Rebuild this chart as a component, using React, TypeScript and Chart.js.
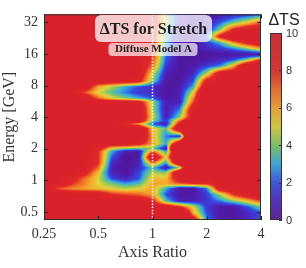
import React, { useEffect, useRef } from "react";
import { Chart, registerables } from "chart.js";
Chart.register(...registerables);

// Axis-ratio grid columns (log-spaced, quarter octaves)
const axisRatioCols = [0.25, 0.297, 0.354, 0.42, 0.5, 0.595, 0.707, 0.841, 1, 1.189, 1.414, 1.682, 2, 2.378, 2.828, 3.364, 4];
// Energy rows in GeV (top to bottom)
const energyRows = [38.0, 32.2, 27.2, 23.5, 20.3, 17.9, 16.84, 15.8, 14.87, 13.97, 12.3, 10.4, 8.82, 7.79, 6.87, 6.06, 5.58, 4.72, 3.99, 3.68, 3.45, 3.11, 2.63, 2.23, 2.01, 1.89, 1.66, 1.47, 1.32, 1.19, 1.05, 0.927, 0.836, 0.737, 0.637, 0.562, 0.486, 0.42];
// ΔTS values, one row per energy, one column per axis ratio
const deltaTS = [
  [10, 10, 10, 10, 10, 10, 10, 10, 10, 4, 1.2, 0.3, 0.2, 0.4, 1, 1.5, 2],
  [10, 10, 10, 10, 10, 10, 10, 10, 10, 5, 1.2, 0.2, 0.6, 2, 3.5, 5, 7],
  [10, 10, 10, 10, 10, 10, 10, 10, 9.5, 3.5, 0.8, 0.2, 1, 4, 8.5, 10, 10],
  [10, 10, 10, 10, 10, 10, 10, 10, 9, 3.5, 0.6, 0.2, 2.5, 9, 12, 12, 12],
  [10, 10, 10, 10, 10, 10, 10, 10, 9, 3, 0.4, 0.2, 1.5, 3, 6, 8.5, 10],
  [10, 10, 10, 10, 10, 10, 10, 10, 8.5, 2.5, 0.2, 0.2, 1, 1.5, 2.5, 4, 6],
  [10, 10, 10, 10, 10, 10, 10, 10, 8.2, 2.5, 0.2, 0.2, 0.5, 0.8, 1.2, 2, 3],
  [10, 10, 10, 10, 10, 10, 10, 10, 8, 2.5, 0.2, 0.2, 0.2, 0.3, 0.4, 0.5, 0.6],
  [10, 10, 10, 10, 10, 10, 10, 10, 7.8, 2.2, 0.2, 0.2, 0.3, 0.6, 1, 2, 3.5],
  [10, 10, 10, 10, 10, 10, 10, 10, 7.5, 2, 0.2, 0.3, 0.5, 1, 2, 4.5, 9],
  [10, 10, 10, 10, 10, 10, 10, 10, 7, 1.5, 0.2, 0.4, 1.5, 2.5, 6, 12, 12],
  [10, 10, 10, 10, 10, 10, 10, 10, 5, 0.8, 0.1, 1, 4.5, 10, 10, 10, 10],
  [10, 10, 10, 10, 10, 10, 10, 9, 4, 0.3, 0.2, 2, 9, 10, 10, 10, 10],
  [10, 10, 10, 10, 6, 4.5, 3, 2, 1.3, 0.2, 0.4, 3, 11, 10, 10, 10, 10],
  [10, 10, 10, 7.5, 5, 3.5, 2.5, 1.5, 1.2, 0.2, 0.6, 5, 14, 10, 10, 10, 10],
  [10, 10, 10, 10, 7, 5, 4, 3, 2, 0.4, 0.8, 6.5, 14, 10, 10, 10, 10],
  [10, 10, 10, 10, 10, 10, 10, 9.5, 4.5, 0.8, 0.8, 7.5, 12, 10, 10, 10, 10],
  [10, 10, 10, 10, 10, 10, 10, 11, 4.5, 0.6, 2.5, 10, 10, 10, 10, 10, 10],
  [10, 10, 10, 10, 10, 10, 10, 11, 5, 0.8, 4, 10, 10, 10, 10, 10, 10],
  [10, 10, 10, 10, 10, 10, 10, 11, 4, 1.5, 7, 12, 10, 10, 10, 10, 10],
  [10, 10, 10, 10, 10, 10, 8.5, 6, 2, 0.5, 9, 12, 10, 10, 10, 10, 10],
  [10, 10, 10, 10, 10, 10, 10, 12, 5.5, 3.5, 12, 20, 10, 10, 10, 10, 10],
  [10, 10, 10, 10, 10, 10, 10, 12, 6, 2.5, 1, 20, 20, 10, 10, 10, 10],
  [10, 10, 10, 10, 10, 10, 10, 9, 6, 3, 12, 20, 10, 10, 10, 10, 10],
  [10, 10, 10, 10, 9.5, 5, 4, 3.5, 4, 0.5, 25, 20, 10, 10, 10, 10, 10],
  [10, 10, 10, 10, 8, 3, 0.8, 0.5, 7, 3, 15, 20, 10, 10, 10, 10, 10],
  [10, 10, 10, 10, 8, 2, 0, 0.3, 12, 5, 15, 20, 10, 10, 10, 10, 10],
  [10, 10, 10, 10, 8, 1.2, 0, 0.8, 7, 3, 12, 15, 10, 10, 10, 10, 10],
  [10, 10, 10, 10, 7, 0.8, 0, 1.2, 3.5, 0.5, 4, 20, 10, 10, 10, 10, 10],
  [10, 10, 10, 9, 5.5, 0.8, 0, 1.8, 4.5, 4, 12, 20, 10, 10, 10, 10, 10],
  [10, 10, 9, 7, 5, 1.8, 0.8, 2, 5.5, 5.5, 10, 15, 10, 10, 10, 10, 10],
  [10, 10, 8, 6.5, 5, 4, 3, 3.5, 6, 6, 7, 7.5, 8, 10, 10, 10, 10],
  [10, 7.5, 6.5, 6, 5.5, 5, 4.5, 5, 6, 3, 0.3, 0.3, 2.5, 10, 10, 10, 10],
  [10, 10, 10, 10, 10, 8, 7.5, 7, 6, 2, 0.2, 0.4, 1.5, 4.5, 8, 10, 12],
  [10, 10, 10, 10, 10, 10, 10, 10, 8.5, 3.5, 0.8, 0.8, 1.5, 2.5, 4, 5.5, 7.5],
  [10, 10, 10, 10, 10, 10, 10, 10, 10, 10, 8, 5, 1.5, 0.4, 0.4, 2, 4],
  [10, 10, 10, 10, 10, 10, 10, 10, 10, 10, 15, 6, 2, 0.4, 0.2, 1, 1.8],
  [10, 10, 10, 10, 10, 10, 10, 10, 10, 10, 15, 10, 2.6, 0.5, 0.3, 1.2, 2],
];

const xTicks = [0.25, 0.5, 1, 2, 4];
const yTicks = [0.5, 1, 2, 4, 8, 16, 32];
const cbTicks = [0, 2, 4, 6, 8, 10];
const xRange = [0.25, 4];
const yRange = [0.42, 38];
const cbRange = [0, 10];

const cmapStops: number[][] = [
  [0, 80, 20, 150],
  [1, 75, 35, 190],
  [2, 50, 75, 225],
  [3, 55, 170, 225],
  [4, 125, 200, 100],
  [5, 225, 210, 60],
  [6, 245, 165, 45],
  [7, 240, 105, 40],
  [8, 224, 40, 40],
  [10, 218, 32, 42],
];

function colorFor(v: number): number[] {
  const c = Math.max(0, Math.min(10, v));
  for (let i = 0; i < cmapStops.length - 1; i++) {
    const a = cmapStops[i], b = cmapStops[i + 1];
    if (c <= b[0]) {
      const t = (c - a[0]) / (b[0] - a[0]);
      return [a[1] + (b[1] - a[1]) * t, a[2] + (b[2] - a[2]) * t, a[3] + (b[3] - a[3]) * t];
    }
  }
  const l = cmapStops[cmapStops.length - 1];
  return [l[1], l[2], l[3]];
}

const SERIF = "'Liberation Serif', 'DejaVu Serif', serif";
const SANS = "'Liberation Sans', Arial, sans-serif";

function locate(arr: number[], v: number, asc: boolean): [number, number] {
  const n = arr.length;
  let k = 0;
  if (asc) {
    while (k < n - 2 && v > arr[k + 1]) k++;
    const t = (v - arr[k]) / (arr[k + 1] - arr[k]);
    return [k, Math.max(0, Math.min(1, t))];
  }
  while (k < n - 2 && v < arr[k + 1]) k++;
  const t = (arr[k] - v) / (arr[k] - arr[k + 1]);
  return [k, Math.max(0, Math.min(1, t))];
}

const heatmapPlugin = {
  id: "heatmap",
  beforeDatasetsDraw(chart: any) {
    const { ctx, chartArea, scales } = chart;
    const xs = scales.x, ys = scales.y;
    const left = Math.round(chartArea.left), top = Math.round(chartArea.top);
    const w = Math.round(chartArea.right) - left;
    const h = Math.round(chartArea.bottom) - top;
    const lc = axisRatioCols.map((v) => Math.log2(v));
    const lr = energyRows.map((v) => Math.log2(v));
    const off = document.createElement("canvas");
    off.width = w; off.height = h;
    const octx = off.getContext("2d")!;
    const img = octx.createImageData(w, h);
    const ci: number[] = [], ct: number[] = [];
    for (let i = 0; i < w; i++) {
      const lx = Math.log2(xs.getValueForPixel(left + i + 0.5));
      const [k, t] = locate(lc, lx, true);
      ci.push(k); ct.push(t);
    }
    for (let j = 0; j < h; j++) {
      const ly = Math.log2(ys.getValueForPixel(top + j + 0.5));
      const [r, u] = locate(lr, ly, false);
      const r0 = deltaTS[r], r1 = deltaTS[r + 1];
      for (let i = 0; i < w; i++) {
        const k = ci[i], t = ct[i];
        const a = r0[k] + (r0[k + 1] - r0[k]) * t;
        const b = r1[k] + (r1[k + 1] - r1[k]) * t;
        const v = a + (b - a) * u;
        const col = colorFor(v);
        const p = (j * w + i) * 4;
        img.data[p] = col[0]; img.data[p + 1] = col[1]; img.data[p + 2] = col[2]; img.data[p + 3] = 255;
      }
    }
    octx.putImageData(img, 0, 0);
    ctx.save();
    ctx.drawImage(off, left, top);
    ctx.restore();
  },
  afterDatasetsDraw(chart: any) {
    const { ctx, chartArea, scales } = chart;
    const xs = scales.x, ys = scales.y;
    const { left, top, right, bottom } = chartArea;
    ctx.save();
    // dotted line at axis ratio 1
    const x1 = xs.getPixelForValue(1);
    ctx.strokeStyle = "rgba(255,255,255,0.95)";
    ctx.lineWidth = 1.5;
    ctx.setLineDash([1.5, 1.6]);
    ctx.beginPath();
    ctx.moveTo(x1, top);
    ctx.lineTo(x1, bottom);
    ctx.stroke();
    ctx.setLineDash([]);
    // frame
    ctx.strokeStyle = "#333";
    ctx.lineWidth = 1;
    ctx.strokeRect(left + 0.5, top + 0.5, right - left - 1, bottom - top - 1);
    // inner ticks
    ctx.strokeStyle = "#222";
    ctx.beginPath();
    for (const v of xTicks) {
      const px = Math.round(xs.getPixelForValue(v)) + 0.5;
      ctx.moveTo(px, bottom); ctx.lineTo(px, bottom - 4);
      ctx.moveTo(px, top); ctx.lineTo(px, top + 4);
    }
    for (const v of yTicks) {
      const py = Math.round(ys.getPixelForValue(v)) + 0.5;
      ctx.moveTo(left, py); ctx.lineTo(left + 4, py);
      ctx.moveTo(right, py); ctx.lineTo(right - 4, py);
    }
    ctx.stroke();

    // title boxes
    ctx.fillStyle = "rgba(255,255,255,0.76)";
    ctx.beginPath();
    (ctx as any).roundRect(x1 - 57.5, 15, 117, 27, 6);
    ctx.fill();
    ctx.fillStyle = "rgba(255,255,255,0.68)";
    ctx.beginPath();
    (ctx as any).roundRect(x1 - 44, 43, 89, 13, 4);
    ctx.fill();
    ctx.fillStyle = "#1e1e1e";
    ctx.textAlign = "center";
    ctx.textBaseline = "middle";
    ctx.font = `bold 16px ${SERIF}`;
    ctx.fillText("ΔTS for Stretch", x1 + 1, 29.5);
    ctx.font = `bold 11px ${SERIF}`;
    ctx.fillText("Diffuse Model A", x1 + 1, 49.5);

    // colorbar
    const cbL = 270, cbR = 282, cbT = 33, cbB = 220;
    for (let py = cbT; py < cbB; py++) {
      const v = cbRange[0] + (cbRange[1] - cbRange[0]) * (cbB - (py + 0.5)) / (cbB - cbT);
      const c = colorFor(v).map((q) => Math.round(q * 0.82 + 128 * 0.18));
      ctx.fillStyle = `rgb(${c[0]},${c[1]},${c[2]})`;
      ctx.fillRect(cbL, py, cbR - cbL, 1);
    }
    ctx.strokeStyle = "#333";
    ctx.strokeRect(cbL + 0.5, cbT + 0.5, cbR - cbL - 1, cbB - cbT - 1);
    ctx.beginPath();
    ctx.font = `11px ${SANS}`;
    ctx.textAlign = "left";
    ctx.fillStyle = "#333";
    for (const v of cbTicks) {
      const py = cbB - (v - cbRange[0]) / (cbRange[1] - cbRange[0]) * (cbB - cbT);
      const yy = Math.round(py) + 0.5;
      ctx.moveTo(cbR - 3, yy); ctx.lineTo(cbR, yy);
      ctx.fillText(String(v), cbR + 4, py + 0.5);
    }
    ctx.stroke();
    ctx.font = `16px ${SANS}`;
    ctx.textAlign = "center";
    ctx.fillStyle = "#222";
    ctx.fillText("ΔTS", 284, 21);
    ctx.restore();
  },
};

export default function App() {
  const ref = useRef<HTMLCanvasElement | null>(null);
  useEffect(() => {
    if (!ref.current) return;
    const chart = new Chart(ref.current, {
      type: "scatter",
      data: { datasets: [{ data: [], pointRadius: 0 }] },
      options: {
        animation: false,
        responsive: false,
        devicePixelRatio: 1,
        layout: { padding: { left: 0, right: 45, top: 4, bottom: 0 } },
        plugins: { legend: { display: false }, tooltip: { enabled: false } },
        scales: {
          x: {
            type: "logarithmic",
            min: xRange[0],
            max: xRange[1],
            afterBuildTicks: (s: any) => { s.ticks = xTicks.map((v) => ({ value: v })); },
            afterFit: (s: any) => { s.height = 48; },
            grid: { display: false, drawTicks: false },
            border: { display: false },
            ticks: {
              padding: 6,
              color: "#333",
              maxRotation: 0,
              autoSkip: false,
              font: { family: SERIF, size: 14 },
              callback: (v: any) => String(v),
            },
            title: { display: true, text: "Axis Ratio", color: "#333", font: { family: SERIF, size: 16 }, padding: { top: 0, bottom: 6 } },
          },
          y: {
            type: "logarithmic",
            min: yRange[0],
            max: yRange[1],
            afterBuildTicks: (s: any) => { s.ticks = yTicks.map((v) => ({ value: v })); },
            afterFit: (s: any) => { s.width = 44; },
            grid: { display: false, drawTicks: false },
            border: { display: false },
            ticks: {
              padding: 6,
              color: "#333",
              autoSkip: false,
              font: { family: SERIF, size: 14 },
              callback: (v: any) => String(v),
            },
            title: { display: true, text: "Energy [GeV]", color: "#333", font: { family: SERIF, size: 16 }, padding: { top: 0, bottom: 0 } },
          },
        },
      },
      plugins: [heatmapPlugin],
    } as any);
    return () => chart.destroy();
  }, []);
  return (
    <div style={{ position: "fixed", left: 0, top: 0, width: 306, height: 268, background: "#fff" }}>
      <canvas ref={ref} width={306} height={268} style={{ width: 306, height: 268, display: "block" }} />
    </div>
  );
}
